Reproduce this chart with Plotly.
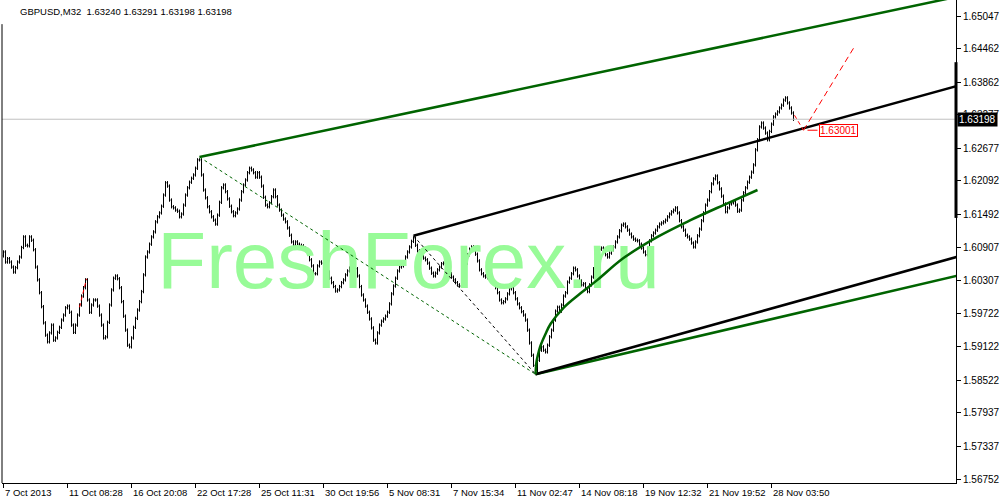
import plotly.graph_objects as go

# ---------------- data ----------------
closes = [
    1.6082, 1.6064, 1.6070, 1.6064, 1.6055, 1.6046, 1.6054, 1.6064, 1.6073, 1.6090,
    1.6109, 1.6094, 1.6093, 1.6109, 1.6103, 1.6086, 1.6055, 1.6032, 1.6009, 1.5984,
    1.5955, 1.5933, 1.5921, 1.5937, 1.5951, 1.5924, 1.5928, 1.5938, 1.5947, 1.5960,
    1.5969, 1.5982, 1.5985, 1.5974, 1.5951, 1.5938, 1.5951, 1.5969, 1.5987, 1.6003,
    1.6018, 1.6032, 1.5996, 1.5974, 1.5987, 1.5996, 1.5996, 1.5985, 1.5969, 1.5951,
    1.5928, 1.5930, 1.5956, 1.5987, 1.6014, 1.6035, 1.6039, 1.6034, 1.6018, 1.5993,
    1.5967, 1.5942, 1.5915, 1.5912, 1.5928, 1.5947, 1.5963, 1.5978, 1.5993, 1.6011,
    1.6041, 1.6073, 1.6082, 1.6096, 1.6109, 1.6118, 1.6136, 1.6145, 1.6152, 1.6164,
    1.6184, 1.6206, 1.6200, 1.6175, 1.6163, 1.6161, 1.6157, 1.6155, 1.6145, 1.6150,
    1.6166, 1.6184, 1.6197, 1.6207, 1.6214, 1.6220, 1.6232, 1.6247, 1.6247, 1.6220,
    1.6193, 1.6179, 1.6163, 1.6154, 1.6145, 1.6139, 1.6132, 1.6148, 1.6171, 1.6197,
    1.6202, 1.6190, 1.6177, 1.6164, 1.6154, 1.6147, 1.6152, 1.6159, 1.6175, 1.6190,
    1.6202, 1.6211, 1.6224, 1.6232, 1.6229, 1.6224, 1.6216, 1.6224, 1.6216, 1.6200,
    1.6180, 1.6166, 1.6163, 1.6170, 1.6181, 1.6193, 1.6181, 1.6166, 1.6157, 1.6148,
    1.6141, 1.6136, 1.6125, 1.6112, 1.6100, 1.6094, 1.6100, 1.6096, 1.6094, 1.6093,
    1.6089, 1.6086, 1.6078, 1.6068, 1.6057, 1.6043, 1.6043, 1.6057, 1.6064, 1.6062,
    1.6059, 1.6052, 1.6046, 1.6035, 1.6027, 1.6020, 1.6012, 1.6014, 1.6020, 1.6027,
    1.6032, 1.6041, 1.6048, 1.6053, 1.6053, 1.6055, 1.6052, 1.6039, 1.6020, 1.6005,
    1.5996, 1.5985, 1.5974, 1.5962, 1.5946, 1.5924, 1.5919, 1.5937, 1.5951, 1.5958,
    1.5962, 1.5967, 1.5974, 1.5989, 1.6007, 1.6021, 1.6035, 1.6048, 1.6055, 1.6057,
    1.6064, 1.6073, 1.6082, 1.6091, 1.6101, 1.6107, 1.6094, 1.6084, 1.6080, 1.6077,
    1.6071, 1.6068, 1.6062, 1.6053, 1.6044, 1.6039, 1.6044, 1.6050, 1.6055, 1.6061,
    1.6062, 1.6055, 1.6050, 1.6043, 1.6037, 1.6032, 1.6027, 1.6023, 1.6021, 1.6032,
    1.6050, 1.6062, 1.6077, 1.6087, 1.6091, 1.6086, 1.6078, 1.6066, 1.6050, 1.6043,
    1.6039, 1.6037, 1.6036, 1.6032, 1.6030, 1.6025, 1.6018, 1.6009, 1.5996, 1.5991,
    1.5993, 1.5998, 1.6007, 1.6016, 1.6018, 1.6009, 1.5998, 1.5989, 1.5982, 1.5975,
    1.5969, 1.5960, 1.5942, 1.5919, 1.5897, 1.5879, 1.5866, 1.5888, 1.5906, 1.5912,
    1.5906, 1.5903, 1.5915, 1.5930, 1.5942, 1.5960, 1.5976, 1.5983, 1.5976, 1.5987,
    1.6003, 1.6009, 1.6028, 1.6035, 1.6043, 1.6053, 1.6050, 1.6039, 1.6030, 1.6023,
    1.6025, 1.6016, 1.6011, 1.6023, 1.6037, 1.6052, 1.6071, 1.6080, 1.6087, 1.6089,
    1.6084, 1.6077, 1.6073, 1.6080, 1.6086, 1.6091, 1.6100, 1.6109, 1.6120, 1.6130,
    1.6132, 1.6127, 1.6121, 1.6114, 1.6109, 1.6105, 1.6103, 1.6102, 1.6096, 1.6089,
    1.6082, 1.6077, 1.6089, 1.6102, 1.6111, 1.6116, 1.6121, 1.6127, 1.6132, 1.6134,
    1.6136, 1.6139, 1.6145, 1.6150, 1.6154, 1.6157, 1.6161, 1.6152, 1.6138, 1.6127,
    1.6121, 1.6112, 1.6109, 1.6105, 1.6098, 1.6091, 1.6100, 1.6111, 1.6123, 1.6138,
    1.6152, 1.6166, 1.6175, 1.6190, 1.6204, 1.6213, 1.6218, 1.6206, 1.6195, 1.6182,
    1.6168, 1.6154, 1.6161, 1.6168, 1.6170, 1.6172, 1.6166, 1.6155, 1.6157, 1.6175,
    1.6188, 1.6197, 1.6207, 1.6216, 1.6225, 1.6238, 1.6265, 1.6283, 1.6306, 1.6313,
    1.6304, 1.6295, 1.6283, 1.6298, 1.6311, 1.6324, 1.6329, 1.6333, 1.6340, 1.6345,
    1.6354, 1.6358, 1.6349, 1.6340, 1.6331, 1.63198,
]
first_open = 1.6075
wick = 0.0003

x_tick_bars = [0, 32, 64, 96, 128, 160, 192, 224, 256, 288, 320, 352, 384]
x_tick_labels = ["7 Oct 2013", "11 Oct 08:28", "16 Oct 20:08", "22 Oct 17:28",
                 "25 Oct 11:31", "30 Oct 19:56", "5 Nov 08:31", "7 Nov 15:34",
                 "11 Nov 02:47", "14 Nov 08:18", "19 Nov 12:32", "21 Nov 19:52",
                 "28 Nov 03:50"]
y_ticks = [1.65047, 1.64462, 1.63862, 1.63277, 1.62677, 1.62092, 1.61492, 1.60907,
           1.60307, 1.59722, 1.59122, 1.58522, 1.57937, 1.57337, 1.56752]

header_text = "GBPUSD,M32  1.63240 1.63291 1.63198 1.63198"
last_price = 1.63198
target_price = 1.63001

# channel / fan lines (bar index, price)
green_upper_x = [98, 476.5]
green_upper_y = [1.6252, 1.6539]
green_lower_x = [266, 476.5]
green_lower_y = [1.5863, 1.6039]
black_upper_x = [205, 476.5]
black_upper_y = [1.6111, 1.6379]
black_lower_x = [266, 476.5]
black_lower_y = [1.5863, 1.6073]
green_dot_x = [98, 266]
green_dot_y = [1.6252, 1.5863]
black_dot_x = [205, 266]
black_dot_y = [1.6111, 1.5863]
curve_x = [266, 266.5, 267, 268.5, 271, 273.5, 280, 288.5, 297, 310, 327, 343.5, 360, 377]
curve_y = [1.5863, 1.5885, 1.5894, 1.5914, 1.5935, 1.5953, 1.5982, 1.6008, 1.6032,
           1.6071, 1.6109, 1.6139, 1.6166, 1.6193]
red_old_x = [38, 41.5]
red_old_y = [1.5983, 1.6034]
red_down_x = [395.5, 400]
red_down_y = [1.6327, 1.6300]
red_up_x = [400, 425]
red_up_y = [1.6300, 1.6447]
red_tick_x = [402, 407]
watermark = "FreshForex.ru"
watermark_x = 202.5
watermark_y = 1.6053
axis_marker_y = [1.6143, 1.6422]

# ---------------- build ----------------
bars = list(range(len(closes)))
opens = [first_open] + closes[:-1]
highs = [max(o, c) + wick for o, c in zip(opens, closes)]
lows = [min(o, c) - wick for o, c in zip(opens, closes)]

FONT = "Liberation Sans"
DGREEN = "#006400"
X_RANGE = [-0.75, 476.25]

fig = go.Figure()

fig.add_trace(go.Scatter(x=[watermark_x], y=[watermark_y], mode="text", text=[watermark],
                         textposition="middle center",
                         textfont=dict(family=FONT, size=80, color="#98FB98"),
                         hoverinfo="skip", showlegend=False))

fig.add_trace(go.Scatter(x=X_RANGE, y=[last_price, last_price], mode="lines",
                         line=dict(color="#c0c0c0", width=1), hoverinfo="skip",
                         showlegend=False))

fig.add_trace(go.Ohlc(x=bars, open=opens, high=highs, low=lows, close=closes,
                      increasing=dict(line=dict(color="black", width=1)),
                      decreasing=dict(line=dict(color="black", width=1)),
                      tickwidth=0.4, hoverinfo="skip", showlegend=False))


def add_line(xs, ys, color, width, dash="solid", shape="linear"):
    fig.add_trace(go.Scatter(x=xs, y=ys, mode="lines",
                             line=dict(color=color, width=width, dash=dash, shape=shape),
                             hoverinfo="skip", showlegend=False))


add_line(green_dot_x, green_dot_y, DGREEN, 1, "dot")
add_line(black_dot_x, black_dot_y, "black", 1, "dot")
add_line(green_upper_x, green_upper_y, DGREEN, 2.5)
add_line(green_lower_x, green_lower_y, DGREEN, 2.5)
add_line(black_upper_x, black_upper_y, "black", 2.5)
add_line(black_lower_x, black_lower_y, "black", 2.5)
add_line(curve_x, curve_y, DGREEN, 2.5, shape="spline")
add_line(red_old_x, red_old_y, "red", 1, "4px,3px")
add_line(red_down_x, red_down_y, "red", 1, "4px,3px")
add_line(red_up_x, red_up_y, "red", 1, "6px,4px")
add_line(red_tick_x, [target_price, target_price], "red", 1)

annotations = []
for b, lab in zip(x_tick_bars, x_tick_labels):
    annotations.append(dict(x=b, y=0, xref="x", yref="paper", text=lab, showarrow=False,
                            xanchor="left", yanchor="top", xshift=-1, yshift=-2,
                            font=dict(family=FONT, size=9.5, color="black")))
annotations.append(dict(x=0.017, y=1, xref="paper", yref="paper", text=header_text,
                        showarrow=False, xanchor="left", yanchor="top", yshift=-4,
                        font=dict(family=FONT, size=9.5, color="black")))
annotations.append(dict(x=1, y=last_price, xref="paper", yref="y", text=f"{last_price:.5f}",
                        showarrow=False, xanchor="left", yanchor="middle", xshift=1,
                        bgcolor="black", borderpad=1,
                        font=dict(family=FONT, size=10, color="white")))
annotations.append(dict(x=407.5, y=target_price, xref="x", yref="y",
                        text=f"{target_price:.5f}", showarrow=False,
                        xanchor="left", yanchor="middle", bgcolor="white",
                        bordercolor="red", borderwidth=1, borderpad=0,
                        font=dict(family=FONT, size=10, color="red")))

shapes = [
    dict(type="line", xref="paper", yref="paper", x0=0, x1=0, y0=0, y1=0.95,
         line=dict(color="black", width=1)),
    dict(type="line", xref="paper", yref="y", x0=1, x1=1, y0=axis_marker_y[0],
         y1=axis_marker_y[1], line=dict(color="black", width=3)),
]

fig.update_layout(
    width=1000, height=500,
    margin=dict(l=2, r=44, t=0, b=17),
    paper_bgcolor="white", plot_bgcolor="white",
    showlegend=False,
    annotations=annotations,
    shapes=shapes,
    xaxis=dict(range=X_RANGE, showgrid=False, zeroline=False, showline=True,
               linecolor="black", linewidth=1, ticks="outside", ticklen=4,
               tickcolor="black", tickvals=x_tick_bars, showticklabels=False,
               rangeslider=dict(visible=False), fixedrange=True),
    yaxis=dict(range=[1.56681, 1.65334], side="right", showgrid=False, zeroline=False,
               showline=True, linecolor="black", linewidth=1, ticks="outside",
               ticklen=4, tickcolor="black", tickvals=y_ticks,
               ticktext=[f"{v:.5f}" for v in y_ticks],
               tickfont=dict(family=FONT, size=10, color="black"), fixedrange=True),
)

fig.write_html("out.html",
               config={"displayModeBar": False},
               post_script="document.body.style.margin='0px';"
                           "document.body.style.overflow='hidden';")
